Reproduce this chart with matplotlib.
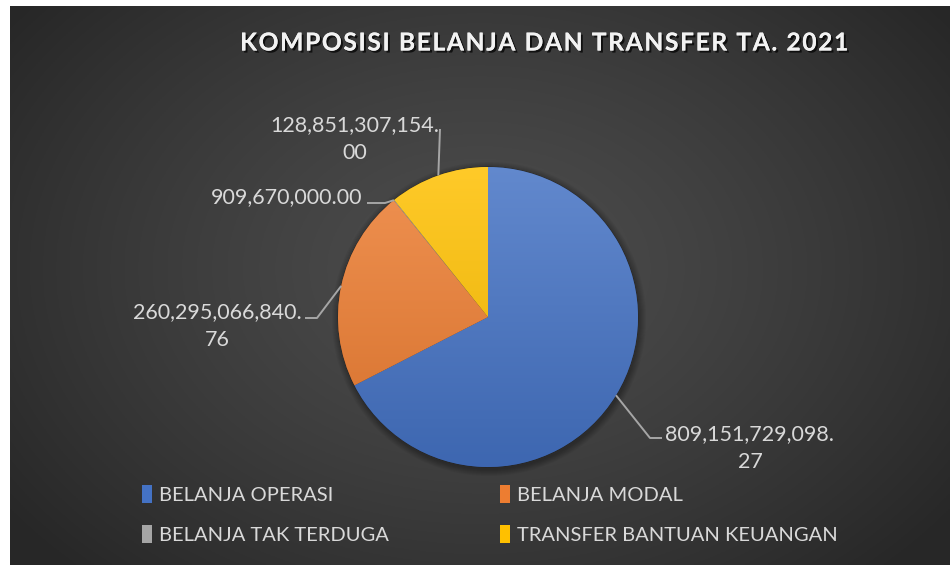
import matplotlib.pyplot as plt
import matplotlib.patheffects as pe
from matplotlib.patches import Rectangle, Circle
from matplotlib.colors import to_rgb
import numpy as np

# data
categories = ['BELANJA OPERASI', 'BELANJA MODAL', 'BELANJA TAK TERDUGA', 'TRANSFER BANTUAN KEUANGAN']
values = [809151729098.27, 260295066840.76, 909670000.00, 128851307154.00]
colors = ['#4472C4', '#ED7D31', '#A5A5A5', '#FFC000']
title = 'KOMPOSISI BELANJA DAN TRANSFER TA. 2021'

W, H = 950, 565
txt_col = '#d9d9d9'
line_col = '#a6a6a6'

fig = plt.figure(figsize=(W / 100, H / 100), dpi=100, facecolor='white')

# dark radial background
bg = fig.add_axes([10 / W, 0, (W - 10) / W, (H - 6) / H])
yy, xx = np.mgrid[0:1:300j, 0:1:500j]
r = np.sqrt(((xx - 0.5) / 0.62) ** 2 + ((yy - 0.47) / 0.75) ** 2)
r = np.clip(r, 0, 1)
c_in, c_out = np.array([0.30, 0.30, 0.30]), np.array([0.155, 0.155, 0.155])
grad = c_in + (c_out - c_in) * r[..., None] ** 1.3
bg.imshow(grad, aspect='auto', extent=(0, 1, 0, 1), origin='upper')
bg.axis('off')

ax = fig.add_axes([0, 0, 1, 1])
ax.patch.set_alpha(0)
cx, cy, rad = 488, H - 317, 150

# soft shadow under pie
for k in range(1, 8):
    ax.add_patch(Circle((cx + 1, cy - 2), rad + k, color='black', alpha=0.045, lw=0, zorder=0))

wedges, _ = ax.pie(values, colors=colors, startangle=90, counterclock=False,
                   center=(cx, cy), radius=rad,
                   wedgeprops=dict(edgecolor=(0.1, 0.1, 0.1, 0.5), linewidth=0.6))

# vertical gradient inside each wedge
for w, c in zip(wedges, colors):
    base = np.array(to_rgb(c))
    top = base + (1 - base) * 0.16
    bot = base * 0.9
    t = np.linspace(0, 1, 200)[:, None, None]
    arr = top + (bot - top) * t
    im = ax.imshow(arr, extent=(cx - rad, cx + rad, cy - rad, cy + rad),
                   origin='upper', aspect='auto', zorder=w.get_zorder() + 0.1)
    im.set_clip_path(w)

# data labels with leader lines
def fmt(v):
    s = f'{v:,.2f}'
    if len(s) > 15:
        s = s[:-2] + '\n' + s[-2:]
    return s

label_pos = [(750, 448), (217, 326), (287, 197), (355, 139)]
elbows = [[(650, 438), (662, 438)],
          [(317, 318), (305, 318)],
          [(385, 203), (367, 203)],
          [(440, 129)]]
for w, v, (tx, ty), elb in zip(wedges, values, label_pos, elbows):
    mid = np.deg2rad((w.theta1 + w.theta2) / 2)
    ax_pt = (cx + rad * np.cos(mid), cy + rad * np.sin(mid))
    pts = [ax_pt] + [(x, H - y) for x, y in elb]
    ax.plot([p[0] for p in pts], [p[1] for p in pts], color=line_col, lw=1.4,
            solid_capstyle='butt', zorder=5)
    ax.text(tx, H - ty, fmt(v), ha='center', va='center', multialignment='center',
            fontsize=15.5, family=['Lato', 'DejaVu Sans'], color=txt_col, linespacing=1.45,
            zorder=6)

# title
spaced = '\u200a'.join(title)
ax.text(544, H - 43, spaced, ha='center', va='center', fontsize=17.8, fontweight='bold',
        family=['Lato', 'DejaVu Sans'], color='#f2f2f2',
        path_effects=[pe.withSimplePatchShadow(offset=(1.5, -1.5), shadow_rgbFace='black', alpha=0.7),
                      pe.Normal()])

ax.set_xlim(0, W)
ax.set_ylim(0, H)
ax.axis('off')

# legend
handles = [Rectangle((0, 0), 1, 1, facecolor=c, edgecolor='none') for c in colors]
leg = fig.legend([handles[i] for i in [0, 2, 1, 3]], [categories[i] for i in [0, 2, 1, 3]],
                 ncol=2, loc='upper left', bbox_to_anchor=(124 / W, 1 - 467 / H),
                 frameon=False, handlelength=0.5, handleheight=1.0, handletextpad=0.35,
                 columnspacing=5.5, labelspacing=1.05,
                 prop=dict(family=['Lato', 'DejaVu Sans'], size=14.5))
for t in leg.get_texts():
    t.set_color(txt_col)

fig.savefig('out.png', dpi=100, facecolor='white')
